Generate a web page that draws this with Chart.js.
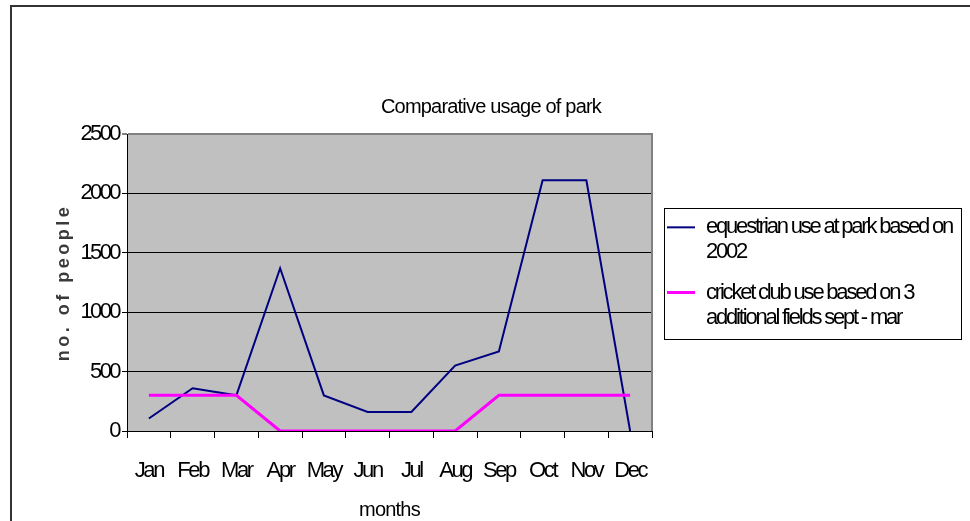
<!DOCTYPE html>
<html>
<head>
<meta charset="utf-8">
<script src="https://cdn.jsdelivr.net/npm/chart.js@4/dist/chart.umd.min.js"></script>
<style>
html, body { margin: 0; padding: 0; background: #fff; overflow: hidden; width: 970px; height: 521px; }
#frame { position: absolute; left: 10px; top: 5px; width: 1000px; height: 600px; border-left: 2px solid #333; border-top: 2px solid #333; }
#chart { position: absolute; left: 0; top: 0; }
</style>
</head>
<body>
<div id="frame"><canvas id="chart" width="958" height="514"></canvas></div>
<script>
// data
var months = ['Jan', 'Feb', 'Mar', 'Apr', 'May', 'Jun', 'Jul', 'Aug', 'Sep', 'Oct', 'Nov', 'Dec'];
var equestrian = [105, 360, 300, 1370, 300, 160, 160, 550, 670, 2110, 2110, 0];
var cricket = [300, 300, 300, 0, 0, 0, 0, 0, 300, 300, 300, 300];
var yTickValues = [0, 500, 1000, 1500, 2000, 2500];
var seriesLabels = [
    ['equestrian use at park based on', '2002'],
    ['cricket club use based on 3', 'additional fields sept - mar']
];

// layout
var PLOT_LEFT = 115, PLOT_RIGHT = 640, X_AXIS_HEIGHT = 90;

Chart.defaults.font.family = "'Liberation Sans', Arial, sans-serif";
Chart.defaults.color = '#000';

// squeeze / stretch text like the old metafile rendering
function withSpacing(obj, name, px) {
    var orig = obj[name];
    if (!orig || orig._spaced) return;
    var f = function () {
        var ctx = this.ctx;
        var prev = ctx.letterSpacing;
        ctx.letterSpacing = px + 'px';
        var r = orig.apply(this, arguments);
        ctx.letterSpacing = prev;
        return r;
    };
    f._spaced = true;
    obj[name] = f;
}

var textPlugin = {
    id: 'textLook',
    beforeInit: function (chart) {
        var legend = chart.legend;
        var fit = legend.fit;
        legend.fit = function () {
            fit.apply(this, arguments);
            this.width = this.chart.width - PLOT_RIGHT;
        };
        var draw = legend.draw;
        legend.draw = function () {
            var ctx = this.ctx;
            ctx.save();
            ctx.translate(0, 10);
            ctx.letterSpacing = '-2.2px';
            draw.apply(this, arguments);
            // legend frame
            var hb = this.legendHitBoxes;
            if (hb.length) {
                var first = hb[0], last = hb[hb.length - 1];
                ctx.letterSpacing = '0px';
                ctx.strokeStyle = '#000';
                ctx.lineWidth = 1;
                var l = Math.round(first.left - 3) + 0.5;
                var t = Math.round(first.top - 8) + 0.5;
                var r = Math.round(this.right - 9) + 0.5;
                var b = Math.round(last.top + last.height + 7) + 0.5;
                ctx.strokeRect(l, t, r - l, b - t);
            }
            ctx.restore();
        };
        withSpacing(chart.titleBlock, 'draw', -0.8);
    },
    afterLayout: function (chart) {
        withSpacing(chart.scales.x, 'drawLabels', -2.4);
        withSpacing(chart.scales.x, 'drawTitle', -0.8);
        withSpacing(chart.scales.y, 'drawLabels', -2.6);
        withSpacing(chart.scales.y, 'drawTitle', 3.5);
    },
    beforeDraw: function (chart) {
        var a = chart.chartArea, ctx = chart.ctx;
        ctx.save();
        ctx.fillStyle = '#C0C0C0';
        ctx.fillRect(a.left, a.top, a.right - a.left, a.bottom - a.top);
        ctx.restore();
    },
    beforeDatasetsDraw: function (chart) {
        var a = chart.chartArea, ctx = chart.ctx;
        ctx.save();
        ctx.strokeStyle = '#808080';
        ctx.lineWidth = 2;
        ctx.beginPath();
        ctx.moveTo(a.right, a.top - 1);
        ctx.lineTo(a.right, a.bottom);
        ctx.stroke();
        ctx.restore();
    }
};

var lineChartData = {
    labels: months,
    datasets: [
        {
            label: seriesLabels[0].join(' '),
            data: equestrian,
            borderColor: '#000080',
            backgroundColor: '#000080',
            borderWidth: 2,
            pointRadius: 0,
            tension: 0,
            order: 1
        },
        {
            label: seriesLabels[1].join(' '),
            data: cricket,
            borderColor: '#FF00FF',
            backgroundColor: '#FF00FF',
            borderWidth: 3,
            pointRadius: 0,
            tension: 0,
            order: 0
        }
    ]
};

var lineChartOptions = {
    responsive: false,
    animation: false,
    layout: { padding: 0 },
    plugins: {
        tooltip: { enabled: false },
        title: {
            display: true,
            text: 'Comparative usage of park',
            color: '#000',
            font: { size: 20, weight: 'normal', lineHeight: 1.2 },
            padding: { top: 88, bottom: 15 }
        },
        legend: {
            position: 'right',
            align: 'center',
            labels: {
                color: '#000',
                font: { size: 22, lineHeight: 1.14 },
                padding: 15,
                usePointStyle: true,
                pointStyleWidth: 28,
                generateLabels: function (chart) {
                    return chart.data.datasets.map(function (ds, i) {
                        return {
                            text: seriesLabels[i],
                            fillStyle: ds.borderColor,
                            strokeStyle: ds.borderColor,
                            lineWidth: ds.borderWidth,
                            pointStyle: 'line',
                            hidden: false,
                            datasetIndex: i
                        };
                    });
                }
            }
        }
    },
    scales: {
        x: {
            offset: true,
            afterFit: function (s) { s.height = X_AXIS_HEIGHT; },
            grid: {
                offset: true,
                drawOnChartArea: false,
                tickLength: 7,
                tickColor: '#000',
                tickWidth: 1,
                color: '#000'
            },
            border: { color: '#000', width: 1 },
            ticks: {
                font: { size: 22 },
                color: '#000',
                padding: 20,
                autoSkip: false,
                maxRotation: 0
            },
            title: {
                display: true,
                text: 'months',
                color: '#000',
                font: { size: 20, lineHeight: 1.1 },
                padding: 0
            }
        },
        y: {
            min: 0,
            max: 2500,
            afterFit: function (s) { s.width = PLOT_LEFT; },
            afterBuildTicks: function (s) {
                s.ticks = yTickValues.map(function (v) { return { value: v }; });
            },
            grid: {
                color: function (c) { return c.tick && c.tick.value === 2500 ? '#808080' : '#000'; },
                lineWidth: function (c) { return c.tick && c.tick.value === 2500 ? 2 : 1; },
                tickLength: 5,
                tickColor: '#000',
                tickWidth: 1
            },
            border: { color: '#000', width: 1 },
            ticks: {
                font: { size: 22 },
                color: '#000',
                padding: 3,
                callback: function (v) { return String(v); }
            },
            title: {
                display: true,
                text: 'no. of people',
                color: '#3a3a3a',
                font: { size: 18, weight: 'bold' },
                padding: { top: 41 }
            }
        }
    }
};

var lineChartCanvas = document.getElementById('chart').getContext('2d');
var lineChart = new Chart(lineChartCanvas, {
    type: 'line',
    data: lineChartData,
    options: lineChartOptions,
    plugins: [textPlugin]
});
</script>
</body>
</html>
